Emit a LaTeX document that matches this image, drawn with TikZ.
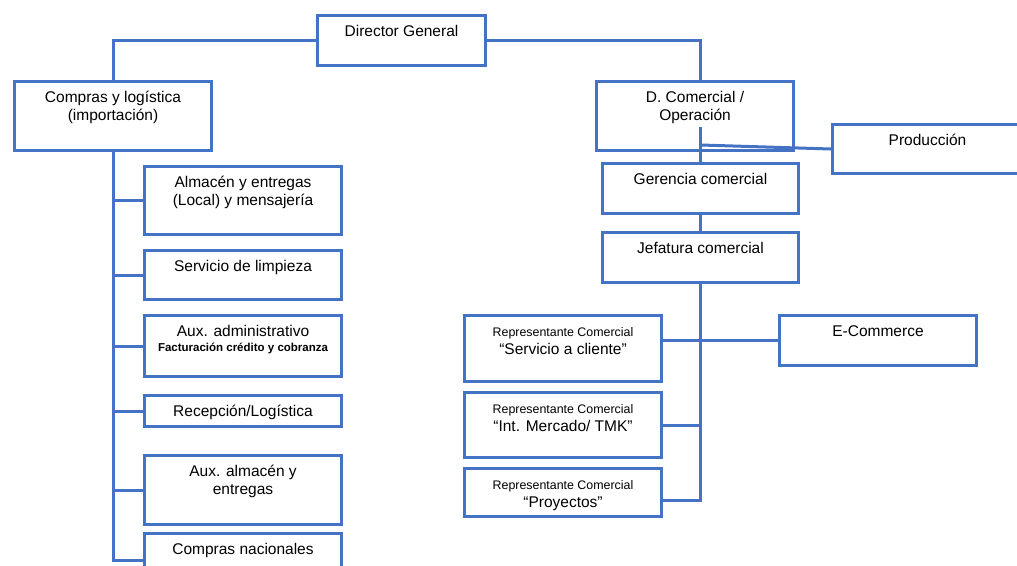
\documentclass[tikz,border=0pt]{standalone}
\usepackage{fontspec}
\setmainfont{Liberation Sans}[Ligatures=Common]
\usetikzlibrary{calc}
\definecolor{orgblue}{HTML}{4472C4}
\newcommand{\boxtext}[3]{\parbox[c][#2pt][t]{#1pt}{\centering\vspace*{8pt}\strut#3}}
\newcommand{\smalltxt}{\fontsize{12.4}{15}\selectfont}

\begin{document}
\begin{tikzpicture}[x=1pt,y=-1pt,
 unit/.style={draw=orgblue,line width=3pt,inner sep=0pt,anchor=north west,font=\fontsize{15.5}{18}\selectfont},
 link/.style={draw=orgblue,line width=3pt}]
 \useasboundingbox (0,0) rectangle (1017,565);
 \node[unit] (dg) at (316,14) {\boxtext{168}{50}{Director General}};
 \node[unit] (cl) at (13,80) {\boxtext{197}{69}{Compras y logística\\(importación)}};
 \node[unit] (dc) at (595,80) {\boxtext{197}{69}{D. Comercial /\\Operación}};
 \node[unit] (prod) at (831,123) {\boxtext{190}{49}{Producción}};
 \node[unit] (ger) at (601,162) {\boxtext{196}{50}{Gerencia comercial}};
 \node[unit] (jef) at (601,231) {\boxtext{196}{50}{Jefatura comercial}};
 \node[unit] (r1) at (463,314) {\boxtext{197}{66}{{\smalltxt Representante Comercial}\\“Servicio a cliente”}};
 \node[unit] (r2) at (463,391) {\boxtext{197}{65}{{\smalltxt Representante Comercial}\\“Int. Mercado/ TMK"}};
 \node[unit] (r3) at (463,467) {\boxtext{197}{48}{{\smalltxt Representante Comercial}\\“Proyectos”}};
 \node[unit] (ec) at (778,314) {\boxtext{197}{50}{E-Commerce}};
 \node[unit] (al) at (143,165) {\boxtext{197}{68}{Almacén y entregas\\(Local) y mensajería}};
 \node[unit] (sl) at (143,249) {\boxtext{197}{49}{Servicio de limpieza}};
 \node[unit] (ax) at (143,314) {\boxtext{197}{61}{Aux. administrativo\\[-3pt]{\bfseries\fontsize{11.5}{13}\selectfont Facturación crédito y cobranza}}};
 \node[unit] (rc) at (143,394) {\boxtext{197}{31}{Recepción/Logística}};
 \node[unit] (aa) at (143,454) {\boxtext{197}{69}{Aux. almacén y\\entregas}};
 \node[unit] (cn) at (143,532) {\boxtext{197}{54}{Compras nacionales}};
 \draw[link] (dg.west) -| (cl.north);
 \draw[link] (dg.east) -| (ger.north |- dc.north);
 \coordinate (dcin) at ($(ger.north)+(0,-35)$);
 \coordinate (dcmid) at ($(ger.north)+(0,-17)$);
 \draw[link] (dcin) -- (ger.north);
 \draw[link] (dcmid) -- (prod.west);
 \draw[link] (ger.south) -- (jef.north);
 \coordinate (repend) at ($(r3.east -| jef.south)+(0,8)$);
 \draw[link] (jef.south) -- (repend) -- (repend -| r3.east);
 \draw[link] (ec.west) -- (ec.west -| r1.east);
 \draw[link] (r2.east) -- (r2.east -| jef.south);
 \draw[link] (cl.south) |- (cn.west);
 \foreach \b in {al,sl,ax,rc,aa}
  \draw[link] (\b.west) -- (\b.west -| cl.south);
\end{tikzpicture}
\end{document}
